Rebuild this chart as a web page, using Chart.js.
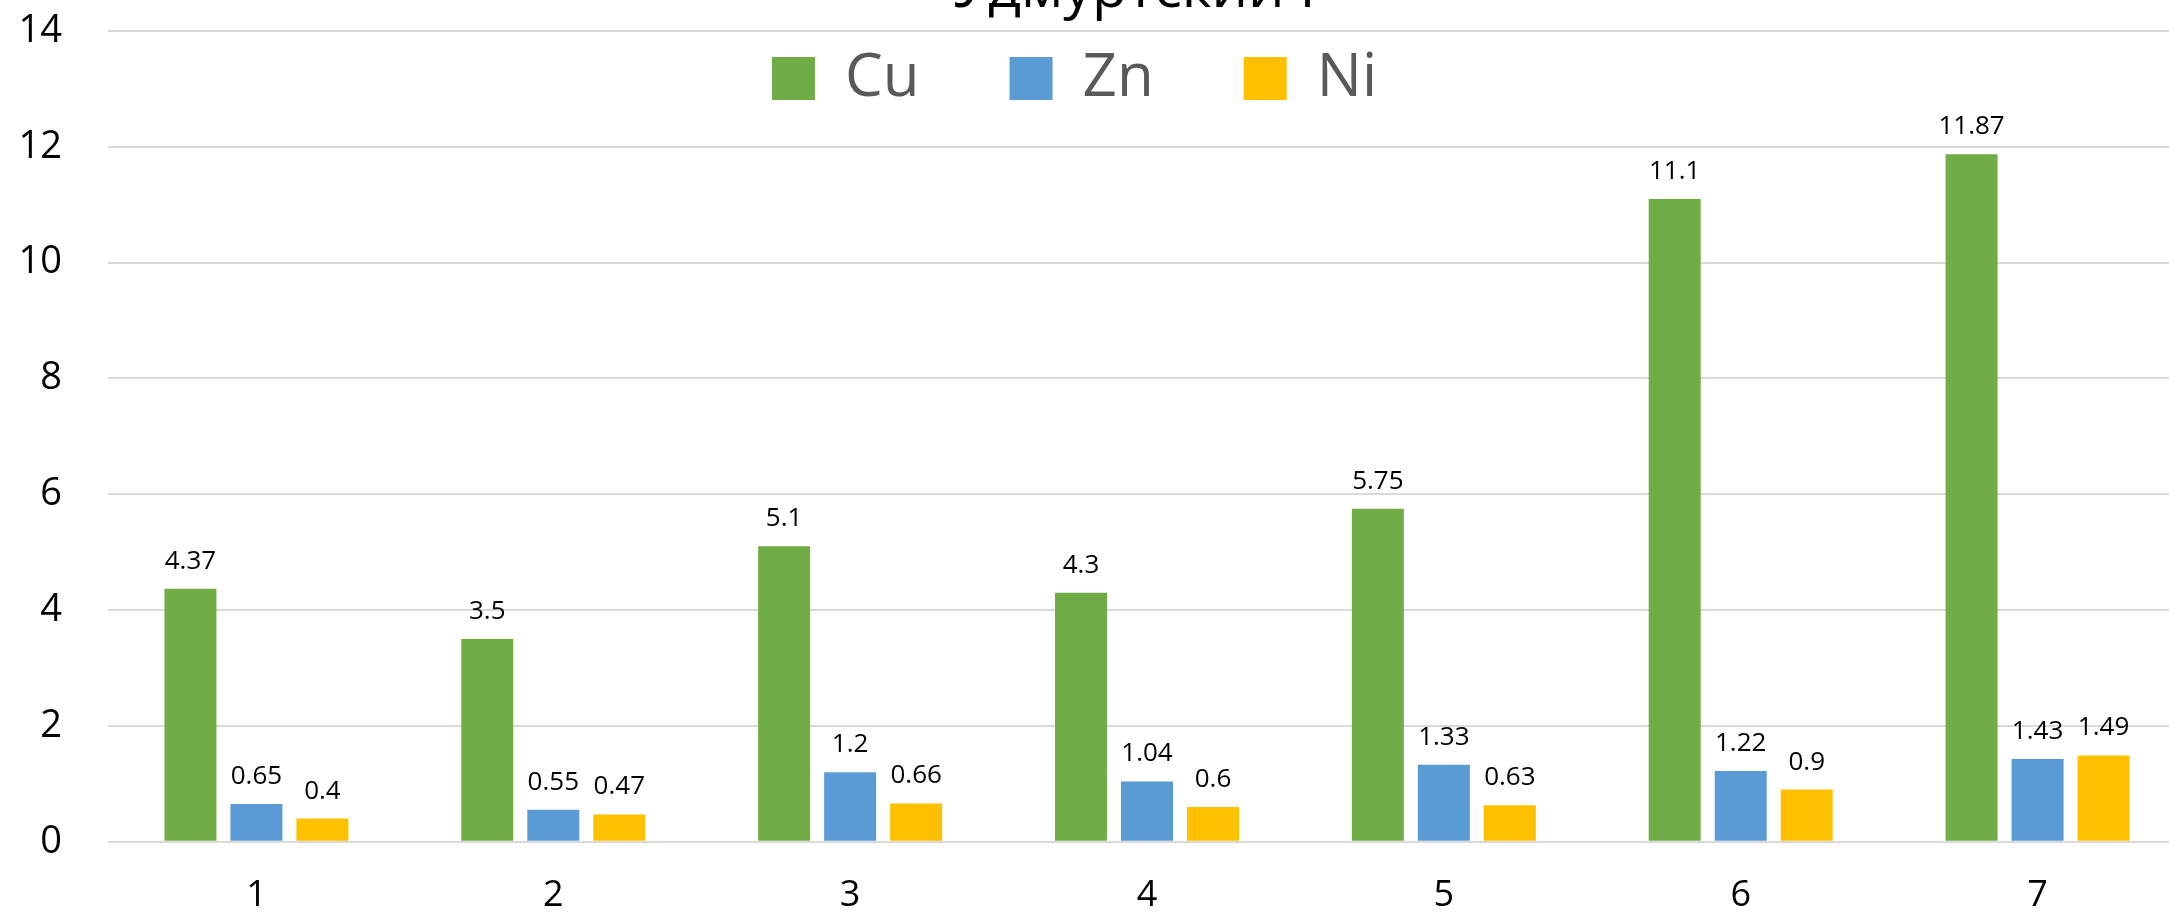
<!DOCTYPE html>
<html>
<head>
<meta charset="utf-8">
<script src="https://cdn.jsdelivr.net/npm/chart.js@4.4.1/dist/chart.umd.min.js"></script>
<style>
  html, body { margin: 0; padding: 0; background: #fff; overflow: hidden; width: 2169px; height: 913px; }
  #wrap { position: absolute; left: 0; top: -44px; width: 2186px; height: 957px; }
</style>
</head>
<body>
<div id="wrap"><canvas id="chart" width="2186" height="957"></canvas></div>
<script>
// Sample numbers along the x axis
const categories = ['1', '2', '3', '4', '5', '6', '7'];

// Metal content per sample
const cuValues = [4.37, 3.5, 5.1, 4.3, 5.75, 11.1, 11.87];
const znValues = [0.65, 0.55, 1.2, 1.04, 1.33, 1.22, 1.43];
const niValues = [0.4, 0.47, 0.66, 0.6, 0.63, 0.9, 1.49];

const seriesNames = ['Cu', 'Zn', 'Ni'];
const seriesColors = ['#70AD47', '#5B9BD5', '#FFC000'];

const titleText = 'Удмуртский Г';
const yTicks = [0, 2, 4, 6, 8, 10, 12, 14];

const FONT = "'Open Sans', 'Liberation Sans', sans-serif";

// Writes each bar's value just above the bar top
const valueLabels = {
  id: 'valueLabels',
  afterDatasetsDraw(chart) {
    const ctx = chart.ctx;
    ctx.save();
    ctx.font = '26px ' + FONT;
    ctx.fillStyle = '#000000';
    ctx.textAlign = 'center';
    ctx.textBaseline = 'alphabetic';
    chart.data.datasets.forEach((ds, i) => {
      const meta = chart.getDatasetMeta(i);
      meta.data.forEach((bar, j) => {
        ctx.fillText(String(ds.data[j]), bar.x, bar.y - 20);
      });
    });
    ctx.restore();
  }
};

// The legend floats over the top of the plot: it takes no layout height,
// and the legend and title boxes are shifted into place after layout.
const floatingHeader = {
  id: 'floatingHeader',
  afterInit(chart) {
    const lg = chart.legend;
    if (lg) {
      const fit = lg.fit.bind(lg);
      lg.fit = function () { fit(); this.height = 0; };
    }
  },
  afterLayout(chart) {
    const lg = chart.legend;
    if (lg) {
      const dx = -18.5, dy = -72.5;
      lg.left += dx; lg.right += dx;
      lg.top += dy;
      lg.bottom = lg.top + 300;
    }
    const tt = chart.titleBlock;
    if (tt) {
      const tx = 48;
      tt.left += tx; tt.right += tx;
    }
  }
};

const datasets = [cuValues, znValues, niValues].map((vals, i) => ({
  label: seriesNames[i],
  data: vals,
  backgroundColor: seriesColors[i],
  borderWidth: 0,
  barPercentage: 0.788,
  categoryPercentage: 0.667
}));

new Chart(document.getElementById('chart'), {
  type: 'bar',
  data: { labels: categories, datasets },
  plugins: [valueLabels, floatingHeader],
  options: {
    responsive: false,
    devicePixelRatio: 1,
    animation: false,
    layout: { padding: 0 },
    plugins: {
      title: {
        display: true,
        text: titleText,
        color: '#000000',
        font: { family: FONT, size: 57.5, weight: 'normal', lineHeight: 1.2 },
        padding: { top: 0, bottom: 6 }
      },
      legend: {
        position: 'top',
        align: 'center',
        labels: {
          color: '#595959',
          font: { family: FONT, size: 60 },
          boxWidth: 43,
          boxHeight: 43,
          padding: 90
        }
      },
      tooltip: { enabled: false }
    },
    scales: {
      x: {
        grid: { display: false, drawTicks: false },
        border: { display: false },
        ticks: { color: '#000000', font: { family: FONT, size: 36 }, padding: 32.7 },
        afterFit(scale) { scale.height = 71.3; }
      },
      y: {
        min: 0,
        max: 14,
        afterBuildTicks(scale) { scale.ticks = yTicks.map(v => ({ value: v })); },
        grid: { color: '#D9D9D9', lineWidth: 2, drawTicks: false },
        border: { display: false },
        ticks: { color: '#000000', font: { family: FONT, size: 38 }, padding: 46 },
        afterFit(scale) { scale.width = 108; }
      }
    }
  }
});
</script>
</body>
</html>
